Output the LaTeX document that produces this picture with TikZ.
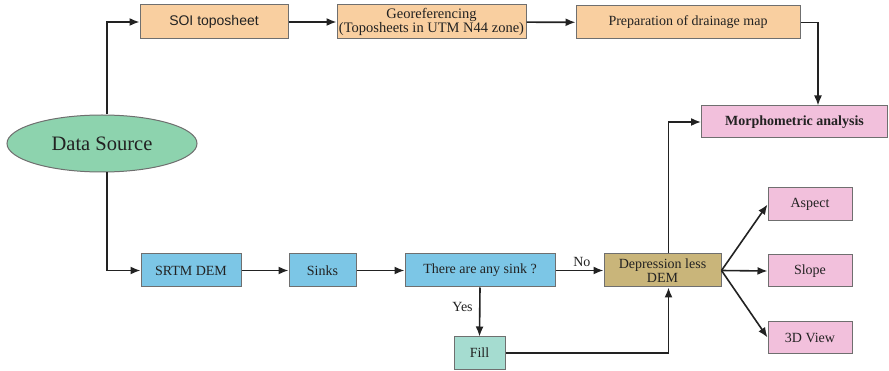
\documentclass[tikz,border=0pt]{standalone}
\usepackage{fontspec}
\setmainfont{Liberation Serif}
\newfontfamily\arialfont{Liberation Sans}
\usetikzlibrary{arrows.meta,shapes.geometric}
\definecolor{peach}{HTML}{F9CFA0}
\definecolor{dsgreen}{HTML}{8DD3AE}
\definecolor{skyb}{HTML}{7CC6E6}
\definecolor{tealf}{HTML}{A5DCD0}
\definecolor{khaki}{HTML}{C9B57A}
\definecolor{pinkb}{HTML}{F2C0DC}
\definecolor{edgegray}{HTML}{6F6F6F}
\definecolor{txt}{HTML}{222222}
\tikzset{
  box/.style={draw=edgegray, line width=1pt, inner sep=0pt, align=center,
     font=\fontsize{14}{13.5}\selectfont, text=txt},
  arr/.style={draw=txt, line width=1.6pt, -{Latex[length=10pt,width=8pt]}},
  lbl/.style={font=\fontsize{14}{14}\selectfont, text=txt},
}
\begin{document}
\begin{tikzpicture}[x=1pt,y=-1pt]
\useasboundingbox (0,0) rectangle (889,371);
\fill[white] (0,0) rectangle (889,371);
\node[box, fill=peach, minimum width=148, minimum height=34, font=\arialfont\fontsize{14}{14}\selectfont] (soi) at (214,22) {SOI toposheet};
\node[box, fill=peach, minimum width=189, minimum height=34, font=\fontsize{14.5}{13.5}\selectfont] (geo) at (431.5,22) {Georeferencing\\(Toposheets in UTM N44 zone)};
\node[box, fill=peach, minimum width=224, minimum height=33] (prep) at (688,22.5) {Preparation of drainage map};
\node[box, fill=pinkb, minimum width=186, minimum height=32, font=\bfseries\fontsize{14}{14}\selectfont] (morph) at (794.5,122) {Morphometric analysis};
\node[box, ellipse, fill=dsgreen, minimum width=190, minimum height=57, font=\fontsize{20.5}{22}\selectfont] (ds) at (102,143.5) {Data Source};
\node[box, fill=skyb, minimum width=100, minimum height=33] (srtm) at (191,270.5) {SRTM DEM};
\node[box, fill=skyb, minimum width=67, minimum height=33] (sinks) at (322.5,270.5) {Sinks};
\node[box, fill=skyb, minimum width=150, minimum height=33] (any) at (480,270.5) {There are any sink ?};
\node[box, fill=khaki, minimum width=117, minimum height=33] (dep) at (662.5,270.5) {Depression less\\DEM};
\node[box, fill=tealf, minimum width=51, minimum height=32] (fill) at (479.5,353) {Fill};
\node[box, fill=pinkb, minimum width=84, minimum height=33] (aspect) at (810,204.5) {Aspect};
\node[box, fill=pinkb, minimum width=84, minimum height=32] (slope) at (810,271) {Slope};
\node[box, fill=pinkb, minimum width=84, minimum height=31] (view) at (810,337.5) {3D View};

\draw[arr] ([xshift=5]ds.north) |- (soi.west);
\draw[arr] ([xshift=5]ds.south) |- (srtm.west);
\draw[arr] (soi) -- (geo);
\draw[arr] (geo) -- (prep);
\draw[arr] (prep.east) -| ([xshift=23.5]morph.north);
\draw[arr] ([xshift=6]dep.north) |- (morph.west);
\draw[arr] (srtm) -- (sinks);
\draw[arr] (sinks) -- (any);
\draw[arr] (any) -- node[lbl, pos=0.55, above=0pt] (no) {No} (dep);
\draw[arr] (any.south) -- node[lbl, left=3pt, pos=0.4] (yes) {Yes} (fill.north);
\draw[arr] (fill.east) -| ([xshift=6]dep.south);
\draw[arr] (dep.east) -- (aspect.west);
\draw[arr] (dep.east) -- (slope.west);
\draw[arr] (dep.east) -- (view.west);
\end{tikzpicture}
\end{document}
